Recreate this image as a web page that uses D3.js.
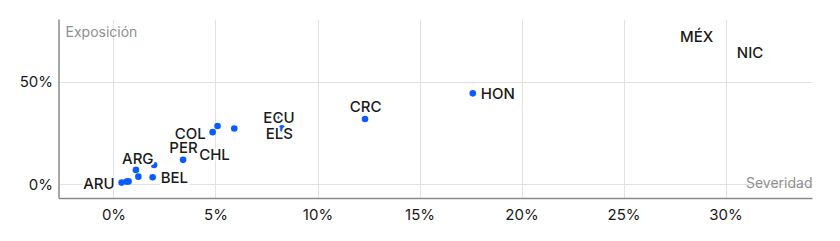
<!DOCTYPE html>
<html>
<head>
<meta charset="utf-8">
<script src="https://cdn.jsdelivr.net/npm/d3@7"></script>
<style>
  html, body { margin: 0; padding: 0; background: #fff; }
  svg { display: block; font-family: Inter, Roboto, sans-serif; }
</style>
</head>
<body>
<svg id="chart" width="840" height="241"></svg>
<script>
// ---- data ----
const codes     = ["ARU", "", "", "", "", "ARG", "BEL", "PER", "CHL", "COL", "", "", "ECU", "ELS", "CRC", "HON", "MÉX", "NIC"];
const severity  = [0.40, 0.64, 0.74, 1.10, 1.22, 1.99, 1.92, 3.41, 4.95, 4.86, 5.10, 5.92, 8.11, 8.25, 12.33, 17.61, 28.58, 31.20];
const exposure  = [0.8, 1.3, 1.4, 7.0, 3.7, 9.4, 3.4, 11.9, 14.3, 25.4, 28.4, 27.2, 32.6, 27.3, 31.8, 44.3, 72.0, 64.2];
const xTicks    = [0, 5, 10, 15, 20, 25, 30];
const yTicks    = [0, 50];
const xTitle    = "Severidad";
const yTitle    = "Exposición";

// label placement names (layout, not data)
const labelPlace = {
  "ARU": "left", "ARG": "topleft", "BEL": "right", "PER": "top",
  "CHL": "center", "COL": "left", "ECU": "center", "ELS": "below",
  "CRC": "top", "HON": "right", "MÉX": "center", "NIC": "center"
};
const placements = {
  left:     { anchor: "end",    dx: -7,   dy: 6.5 },
  right:    { anchor: "start",  dx: 8,    dy: 5.5 },
  top:      { anchor: "middle", dx: 0.5,  dy: -7 },
  topleft:  { anchor: "end",    dx: -0.5, dy: -1.2 },
  center:   { anchor: "middle", dx: 0,    dy: 5.5 },
  below:    { anchor: "middle", dx: -2.5, dy: 10.5 }
};

// ---- layout ----
const svg = d3.select("#chart");
const mLeft = 59, mRight = 812.5, mTop = 19.5, mBottom = 198.5;
const FONT = "Inter, Roboto, sans-serif";

const x = d3.scaleLinear().domain([-2.67, 34.26]).range([mLeft, mRight]);
const y = d3.scaleLinear().domain([-6.94, 80.3]).range([mBottom, mTop]);

// grid
svg.append("g").selectAll("line").data(xTicks).join("line")
  .attr("x1", d => Math.round(x(d)) + 0.5).attr("x2", d => Math.round(x(d)) + 0.5)
  .attr("y1", mTop).attr("y2", mBottom)
  .attr("stroke", "#e2e2e2").attr("stroke-width", 1);
svg.append("g").selectAll("line").data(yTicks).join("line")
  .attr("x1", mLeft).attr("x2", mRight)
  .attr("y1", d => Math.round(y(d)) + 0.5).attr("y2", d => Math.round(y(d)) + 0.5)
  .attr("stroke", "#e2e2e2").attr("stroke-width", 1);

// axes via d3 axis (tick text only, custom lines)
const xAxis = svg.append("g").attr("transform", `translate(0,${mBottom})`)
  .call(d3.axisBottom(x).tickValues(xTicks).tickSize(0).tickPadding(11).tickFormat(d => d + "%"));
xAxis.select(".domain").remove();
xAxis.selectAll("text").attr("font-size", 15).attr("fill", "#1a1a1a").attr("font-family", FONT);

const yAxis = svg.append("g").attr("transform", `translate(${mLeft},0)`)
  .call(d3.axisLeft(y).tickValues(yTicks).tickSize(0).tickPadding(6).tickFormat(d => d + "%"));
yAxis.select(".domain").remove();
yAxis.selectAll("text").attr("font-size", 15).attr("fill", "#1a1a1a").attr("font-family", FONT);

// axis lines
svg.append("line").attr("x1", mLeft).attr("x2", mLeft).attr("y1", mTop).attr("y2", mBottom)
  .attr("stroke", "#8a8a8a").attr("stroke-width", 1.5);
svg.append("line").attr("x1", mLeft).attr("x2", mRight).attr("y1", mBottom).attr("y2", mBottom)
  .attr("stroke", "#8a8a8a").attr("stroke-width", 1.5);

// axis titles
svg.append("text").attr("x", mLeft + 6.5).attr("y", 36.5)
  .attr("font-size", 14).attr("fill", "#8f8f8f").text(yTitle);
svg.append("text").attr("x", mRight).attr("y", 188.3).attr("text-anchor", "end")
  .attr("font-size", 14).attr("fill", "#8f8f8f").text(xTitle);

// points
const pts = codes.map((c, i) => ({ code: c, sx: severity[i], ey: exposure[i] }));
svg.append("g").selectAll("circle").data(pts).join("circle")
  .attr("cx", d => x(d.sx)).attr("cy", d => y(d.ey)).attr("r", 3.3)
  .attr("fill", "#0a5cff");

// labels (white halo hides points beneath, as in the reference); higher labels drawn first
const labelled = pts.filter(d => d.code).sort((a, b) => b.ey - a.ey);
svg.append("g").selectAll("text").data(labelled).join("text")
  .each(function(d) {
    const p = placements[labelPlace[d.code]];
    d3.select(this)
      .attr("x", x(d.sx) + p.dx)
      .attr("y", y(d.ey) + p.dy)
      .attr("text-anchor", p.anchor);
  })
  .attr("font-size", 15).attr("font-weight", 500).attr("fill", "#1a1a1a")
  .attr("stroke", "#fff").attr("stroke-width", 4.5).attr("stroke-linejoin", "round")
  .attr("paint-order", "stroke")
  .text(d => d.code);
</script>
</body>
</html>
